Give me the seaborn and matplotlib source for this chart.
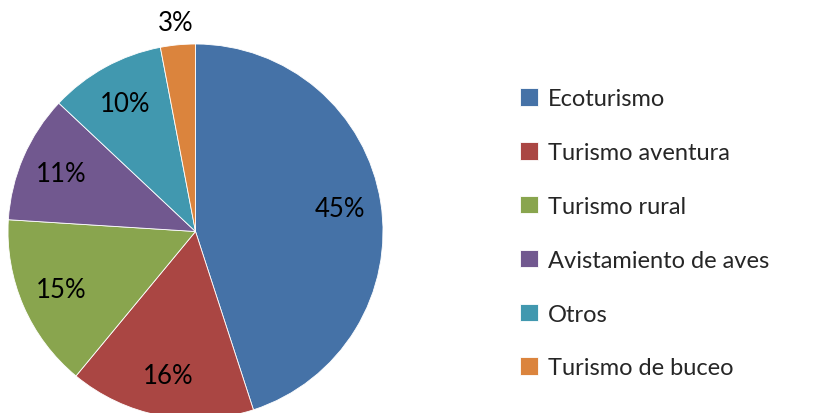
import numpy as np
import seaborn as sns
import matplotlib.pyplot as plt

sns.set_style("white")
plt.rcParams['font.family'] = ['Lato', 'DejaVu Sans']

# Datos
categorias = ['Ecoturismo', 'Turismo aventura', 'Turismo rural',
              'Avistamiento de aves', 'Otros', 'Turismo de buceo']
valores = [45, 16, 15, 11, 10, 3]
colores = ['#4572A7', '#AA4643', '#89A54E', '#71588F', '#4198AF', '#DB843D']

W, H = 822, 414
fig = plt.figure(figsize=(W / 100, H / 100), dpi=100)

# pie centered at (195.5, 232.5) px from top, radius 187.5 px
cx, cy, r = 195.5, 232.5, 187.5
ax = fig.add_axes([(cx - r) / W, (H - cy - r) / H, 2 * r / W, 2 * r / H])

wedges, texts, autotexts = ax.pie(
    valores, colors=colores, startangle=90, counterclock=False,
    autopct='%1.0f%%', pctdistance=0.78,
    wedgeprops=dict(linewidth=0.6, edgecolor='white'),
    textprops=dict(fontsize=18.5, color='black'))
ax.set_xlim(-1, 1)
ax.set_ylim(-1, 1)
ax.set_aspect('auto')

# la etiqueta pequeña va fuera
w = wedges[-1]
ang = np.deg2rad((w.theta1 + w.theta2) / 2)
autotexts[-1].set_position((1.12 * np.cos(ang), 1.12 * np.sin(ang)))

leg = fig.legend(wedges, categorias, loc='upper left',
                 bbox_to_anchor=(499 / W, 1 - 68 / H),
                 frameon=False, fontsize=17,
                 handlelength=0.76, handleheight=0.76,
                 handletextpad=0.4, labelspacing=1.39)

fig.savefig('out.png', dpi=100)
